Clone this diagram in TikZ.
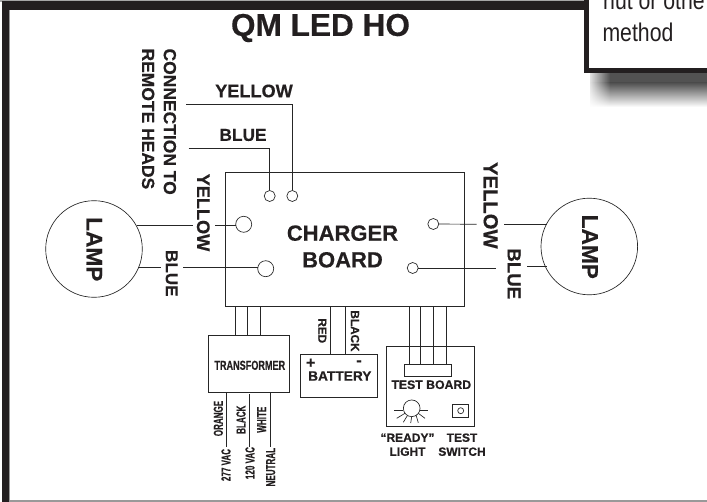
\documentclass[tikz,border=0pt]{standalone}
\usepackage{fontspec}
\setmainfont[BoldFeatures={FakeBold=0.35}]{Liberation Sans}
\usetikzlibrary{calc,fadings}
\definecolor{frame}{HTML}{231F20}
\tikzfading[name=leftfade,left color=transparent!0,right color=transparent!100]
\tikzset{
 wire/.style={draw=black!85,line width=0.5pt},
 box/.style={draw=black!85,line width=0.55pt,fill=white,inner sep=0,outer sep=0},
 term/.style={circle,draw=black!85,line width=0.5pt,fill=white,inner sep=0,outer sep=0,minimum size=#1*0.75pt},
 lab/.style={font=\bfseries\fontsize{13.6}{16}\selectfont,inner sep=0,align=center,text=frame},
 rlab/.style={lab,rotate=-90},
 tiny/.style={font=\bfseries\fontsize{9.75}{11}\selectfont,inner sep=0,rotate=90,xscale=.62,text=frame},
 small/.style={font=\bfseries\fontsize{8.8}{10}\selectfont,inner sep=0,rotate=-90,text=frame},
 call/.style={inner sep=0,font=\fontsize{19.2}{22}\selectfont,xscale=.83,text=frame},
}
\begin{document}
\begin{tikzpicture}[x=0.75pt,y=-0.75pt]
\useasboundingbox (0,0) rectangle (707,502);
\fill[white] (0,0) rectangle (707,502);
% page frame
\fill[black!35] (0,0) rectangle (707,2);
\fill[frame] (1.7,1) rectangle (590,10);
\fill[frame] (1.7,1) rectangle (9,502);
\fill[black!40] (9,10) rectangle (10,502);
\fill[black!40] (10,500.3) rectangle (707,501.6);
% shadow
\fill[black!68] (590,73) rectangle (707,83);
\shade[top color=black!68,bottom color=white] (590,83) rectangle (707,107);
\fill[white,path fading=leftfade] (586,73) rectangle (610,108);
% callout
\path[fill=white,draw=frame,line width=4pt] (586.7,-6) rectangle (712,70.8);
\node[call,anchor=base east] (nut) at (705,10) {nut or othe};
\node[call,anchor=base west] (met) at (602.3,41.7) {method};
% title
\node[font=\bfseries\fontsize{23.7}{26}\selectfont,inner sep=0,text=frame] (title) at (320.5,28) {QM LED HO};
% board
\node[box,minimum width=238.5*0.75pt,minimum height=134.5*0.75pt,anchor=north west] (board) at (225.7,172.3) {};
\node[lab,font=\bfseries\fontsize{16.5}{20}\selectfont] (blabel) at (342.5,246.5) {CHARGER\\BOARD};
% terminals
\node[term=11] (tA) at (269.7,196) {};
\node[term=11] (tB) at (292.3,196) {};
\node[term=16] (tC) at (243.7,224.3) {};
\node[term=16] (tD) at (265.7,268.7) {};
\node[term=11] (tE) at (433.3,224) {};
\node[term=11] (tF) at (412.7,268) {};
% lamps
\node[term=96.6] (lampL) at (94,249) {};
\node[term=96.6] (lampR) at (589.3,246.5) {};
\node[rlab,font=\bfseries\fontsize{17}{18}\selectfont] (lampLt) at (94.3,249.3) {LAMP};
\node[rlab,font=\bfseries\fontsize{17}{18}\selectfont] (lampRt) at (590,246.8) {LAMP};
% remote wires
\coordinate (yEnd) at (186.3,104.7);
\coordinate (bEnd) at (188.7,148);
\draw[wire] (yEnd) -| (tB.north);
\draw[wire] (bEnd) -| (tA.north);
\node[lab] (ty) at (254,91) {YELLOW};
\node[lab,font=\bfseries\fontsize{13}{16}\selectfont] (tb) at (243,135) {BLUE};
\node[rlab,align=left,anchor=west,font=\bfseries\fontsize{13.1}{16.3}\selectfont] (conn2) at (159,48.3) {CONNECTION TO\\REMOTE HEADS};
% left lamp wires
\node[rlab] (ly) at (203.3,212.5) {YELLOW};
\node[rlab,font=\bfseries\fontsize{12.8}{16}\selectfont] (lb) at (171.7,273.3) {BLUE};
\coordinate (ly1) at (193.3,225.3);
\coordinate (ly2) at (215.3,225.3);
\coordinate (lb1) at (161,267.3);
\coordinate (lb2) at (183,267.3);
\coordinate (l1) at (136.7,225.3);
\coordinate (l2) at (138.3,267.3);
\draw[wire] (l1) -- (ly1);
\draw[wire] (ly2) -- (tC.west |- ly2);
\draw[wire] (l2) -- (lb1);
\draw[wire] (lb2) -- (tD.west |- lb2);
% right lamp wires
\node[rlab,font=\bfseries\fontsize{15.2}{18}\selectfont] (ry) at (490.7,205.3) {YELLOW};
\node[rlab,font=\bfseries\fontsize{14}{16}\selectfont] (rb) at (514,273.8) {BLUE};
\coordinate (ry1) at (476.7,224.3);
\coordinate (ry2) at (504,224.3);
\coordinate (rb1) at (496,268);
\coordinate (rb2) at (527.3,266.3);
\coordinate (r1) at (546.7,224.3);
\coordinate (r2) at (547,266.3);
\draw[wire] (tE.east) -- (ry1);
\draw[wire] (ry2) -- (r1);
\draw[wire] (tF.east) -- (rb1);
\draw[wire] (rb2) -- (r2);
% transformer
\node[box,minimum width=81*0.75pt,minimum height=57*0.75pt,anchor=north west] (tr) at (208.3,335) {};
\node[font=\bfseries\fontsize{9.75}{11}\selectfont,inner sep=0,xscale=.7,text=frame] (trt) at (249.8,365.3) {TRANSFORMER};
\foreach \x in {235.3,247.7,260.3} \draw[wire] (\x,306.7) -- (\x,335);
\draw[wire] (226.7,392) -- (226.7,446.7);
\draw[wire] (249.3,394) -- (249.3,446.7);
\draw[wire] (270.7,392) -- (270.7,446.7);
\node[tiny] (o1) at (218.3,418.5) {ORANGE};
\node[tiny] (o2) at (241,419.7) {BLACK};
\node[tiny] (o3) at (261.7,419.7) {WHITE};
\node[tiny] (o4) at (226,465) {277 VAC};
\node[tiny] (o5) at (250,463) {120 VAC};
\node[tiny] (o6) at (270.7,467.2) {NEUTRAL};
% battery
\node[box,minimum width=77*0.75pt,minimum height=43.3*0.75pt,anchor=north west] (bat) at (300,354) {};
\draw[wire] (330.7,306.7) -- (330.7,354);
\draw[wire] (345.3,306.7) -- (345.3,354);
\node[lab,font=\bfseries\fontsize{10.3}{12}\selectfont] (batt) at (339.8,376) {BATTERY};
\node[lab,font=\bfseries\fontsize{12}{12}\selectfont] (pl) at (310.7,363.3) {+};
\node[lab,font=\bfseries\fontsize{12}{12}\selectfont] (mi) at (359,363) {-};
\node[small] (red) at (322.3,330.8) {RED};
\node[small] (blk) at (355,331) {BLACK};
% test board
\node[box,minimum width=87.6*0.75pt,minimum height=80.7*0.75pt,anchor=north west] (test) at (386.7,346) {};
\node[box,minimum width=47.4*0.75pt,minimum height=12.7*0.75pt,anchor=north west] (conn) at (404.3,364) {};
\foreach \x in {409.3,420.7,433.3,446} \draw[wire] (\x,306.7) -- (\x,364);
\node[lab,font=\bfseries\fontsize{9.2}{11}\selectfont] (tbt) at (431.3,384.7) {TEST BOARD};
\node[box,minimum width=16*0.75pt,minimum height=12.7*0.75pt,anchor=north west] (sw) at (452.7,404.3) {};
\node[term=6] (swc) at (460.7,410.7) {};
\node[term=16.7] (ready) at (411.7,408.3) {};
\foreach \a/\b/\c/\d in {394.3/410/403.3/410,420/410/428/410,396.7/418.3/405/413.3,403.3/422.3/407.3/415.7,410.7/423/411.7/416.6,418.3/422.7/416/415,425/418.3/418.3/413.3} \draw[wire] (\a,\b) -- (\c,\d);
\node[lab,font=\bfseries\fontsize{9}{10.5}\selectfont] (rd) at (407.5,444.7) {“READY”\\LIGHT};
\node[lab,font=\bfseries\fontsize{9}{10.5}\selectfont] (ts) at (462,444.7) {TEST\\SWITCH};
\end{tikzpicture}
\end{document}
